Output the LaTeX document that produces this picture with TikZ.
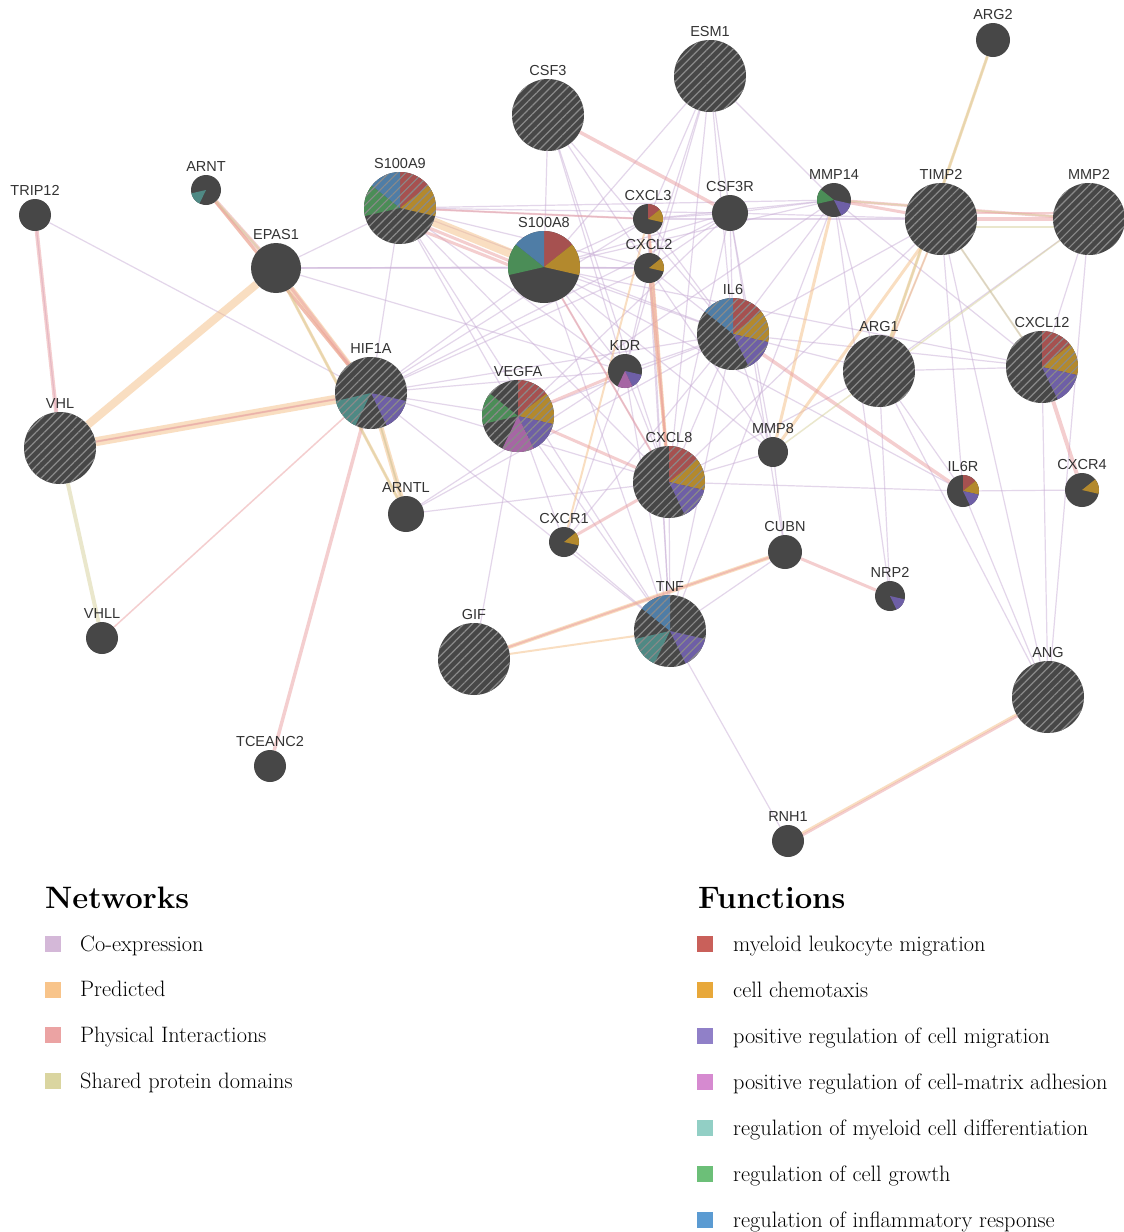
\documentclass[tikz,border=0pt]{standalone}
\usepackage{fontspec}
\newfontfamily\lbfont{Liberation Sans}
\usetikzlibrary{patterns.meta}
\pgfdeclarelayer{back}
\pgfdeclarelayer{bg}
\pgfsetlayers{back,bg,main}
\definecolor{nodegray}{HTML}{474747}
\definecolor{labelgray}{HTML}{333333}
\definecolor{hatchc}{HTML}{8A8A8A}
\definecolor{coexc}{HTML}{C9AED6}
\definecolor{predc}{HTML}{F5BE84}
\definecolor{physc}{HTML}{EA9EA0}
\definecolor{sharc}{HTML}{D6D09A}
\definecolor{lcoex}{HTML}{D4B8D8}
\definecolor{lpred}{HTML}{F8C48A}
\definecolor{lphys}{HTML}{EBA3A3}
\definecolor{lshar}{HTML}{DAD5A0}
\definecolor{fn0}{HTML}{A65150}
\definecolor{fn1}{HTML}{B3892D}
\definecolor{fn2}{HTML}{6E5FA6}
\definecolor{fn3}{HTML}{A666A4}
\definecolor{fn4}{HTML}{4F8984}
\definecolor{fn5}{HTML}{4B8D57}
\definecolor{fn6}{HTML}{4F7DA6}
\definecolor{lf0}{HTML}{C9605A}
\definecolor{lf1}{HTML}{E8A83A}
\definecolor{lf2}{HTML}{9080C8}
\definecolor{lf3}{HTML}{D68AD0}
\definecolor{lf4}{HTML}{92CFC5}
\definecolor{lf5}{HTML}{6CBF78}
\definecolor{lf6}{HTML}{5B9BD2}
\tikzset{
  gene/.style={circle, fill=nodegray, inner sep=0pt, draw=none},
  lbl/.style={font=\lbfont\fontsize{14.5}{16}\selectfont, text=labelgray, inner sep=0pt},
  coex/.style={draw=coexc, line width=1.2pt, opacity=0.5},
  pred/.style={draw=predc, line width=3pt, opacity=0.5},
  phys/.style={draw=physc, line width=3pt, opacity=0.5},
  shar/.style={draw=sharc, line width=3pt, opacity=0.5},
  legsq/.style={minimum size=16pt, inner sep=0pt, draw=none},
  legtxt/.style={anchor=base west, inner sep=0pt, font=\fontsize{22.3}{24}\selectfont, text=black},
  leghead/.style={anchor=base west, inner sep=0pt, font=\fontsize{31}{34}\selectfont\bfseries, text=black},
}
\newcommand\gene[5]{\node[gene, minimum size={2*#4 pt}, label={[lbl,label distance=3pt]above:#5}] (#1) at (#2,#3) {};}
\newcommand\pieslots[3]{\foreach \k in {#3}{%
  \pgfmathsetmacro\myS{90-\k*360/7}\pgfmathsetmacro\myE{90-(\k+1)*360/7}%
  \fill[fill=fn\k] (#1.center) -- ++(\myS:#2pt) arc[start angle=\myS,end angle=\myE,radius=#2pt] -- cycle;}}
\newcommand\hatch[2]{\fill[pattern={Lines[angle=45,distance=6pt,line width=1.2pt]}, pattern color=hatchc, fill opacity=0.5] (#1.center) circle[radius=#2pt];}
\begin{document}
\begin{tikzpicture}[x=1pt,y=-1pt]
\begin{pgfonlayer}{back}
\fill[white] (0,0) rectangle (1124,1232);
\end{pgfonlayer}
\useasboundingbox (0,0) rectangle (1124,1232);
% genes
\gene{ARG2}{993}{40}{17}{ARG2}
\gene{ESM1}{710}{76}{36}{ESM1}
\gene{CSF3}{548}{115}{36}{CSF3}
\gene{TRIP12}{35}{215}{16}{TRIP12}
\gene{ARNT}{206}{190}{15}{ARNT}
\gene{S100A9}{400}{208}{36}{S100A9}
\gene{CXCL3}{648}{219}{15}{CXCL3}
\gene{CSF3R}{730}{213}{18}{CSF3R}
\gene{MMP14}{834}{200}{17}{MMP14}
\gene{TIMP2}{941}{219}{36}{TIMP2}
\gene{MMP2}{1089}{219}{36}{MMP2}
\gene{EPAS1}{276}{268}{25}{EPAS1}
\gene{S100A8}{544}{267}{36}{S100A8}
\gene{CXCL2}{649}{268}{15}{CXCL2}
\gene{IL6}{733}{334}{36}{IL6}
\gene{HIF1A}{371}{393}{36}{HIF1A}
\gene{KDR}{625}{371}{17}{KDR}
\gene{ARG1}{879}{371}{36}{ARG1}
\gene{CXCL12}{1042}{367}{36}{CXCL12}
\gene{VEGFA}{518}{416}{36}{VEGFA}
\gene{VHL}{60}{448}{36}{VHL}
\gene{CXCL8}{669}{482}{36}{CXCL8}
\gene{MMP8}{773}{452}{15}{MMP8}
\gene{ARNTL}{406}{514}{18}{ARNTL}
\gene{IL6R}{963}{491}{16}{IL6R}
\gene{CXCR4}{1082}{490}{17}{CXCR4}
\gene{CXCR1}{564}{542}{15}{CXCR1}
\gene{CUBN}{785}{552}{17}{CUBN}
\gene{NRP2}{890}{596}{15}{NRP2}
\gene{VHLL}{102}{638}{16}{VHLL}
\gene{GIF}{474}{659}{36}{GIF}
\gene{TNF}{670}{631}{36}{TNF}
\gene{ANG}{1048}{697}{36}{ANG}
\gene{TCEANC2}{270}{766}{16}{TCEANC2}
\gene{RNH1}{788}{841}{16}{RNH1}
% pies
\pieslots{S100A9}{36}{0,1,5,6}
\pieslots{S100A8}{36}{0,1,5,6}
\pieslots{CXCL3}{15}{0,1}
\pieslots{CXCL2}{15}{1}
\pieslots{IL6}{36}{0,1,2,6}
\pieslots{HIF1A}{36}{2,4}
\pieslots{KDR}{17}{2,3}
\pieslots{VEGFA}{36}{0,1,2,3,5}
\pieslots{CXCL8}{36}{0,1,2}
\pieslots{TNF}{36}{2,4,6}
\pieslots{CXCL12}{36}{0,1,2}
\pieslots{MMP14}{17}{2,5}
\pieslots{ARNT}{15}{4}
\pieslots{IL6R}{16}{0,1,2}
\pieslots{CXCR4}{17}{1}
\pieslots{CXCR1}{15}{1}
\pieslots{NRP2}{15}{2}
% hatching (query genes)
\foreach \g in {ESM1,CSF3,S100A9,TIMP2,MMP2,IL6,HIF1A,ARG1,CXCL12,VEGFA,VHL,CXCL8,GIF,TNF,ANG}{\hatch{\g}{36}}
% edges
\begin{pgfonlayer}{bg}
\foreach \a/\b in {TRIP12/HIF1A,TRIP12/VHL,VHL/HIF1A,EPAS1/S100A9,EPAS1/S100A8,EPAS1/CXCL2,EPAS1/KDR,
  HIF1A/S100A9,HIF1A/S100A8,HIF1A/CXCL3,HIF1A/CXCL2,HIF1A/CSF3R,HIF1A/IL6,HIF1A/KDR,HIF1A/VEGFA,HIF1A/CXCL8,HIF1A/TNF,HIF1A/ARNTL,
  ARNTL/IL6,ARNTL/KDR,S100A9/CXCL3,S100A9/CXCL2,S100A9/CSF3R,S100A9/IL6,S100A9/MMP14,S100A9/CXCL8,S100A9/TNF,S100A9/KDR,S100A9/VEGFA,
  S100A8/CXCL3,S100A8/CXCL2,S100A8/CSF3R,S100A8/IL6,S100A8/CXCL8,S100A8/TNF,S100A8/MMP8,S100A8/CSF3,S100A8/MMP14,S100A8/IL6R,S100A8/KDR,
  CSF3/CXCL8,CSF3/IL6,CSF3/CXCL2,CSF3/KDR,ESM1/CXCL2,ESM1/CXCL3,ESM1/IL6,ESM1/CSF3R,ESM1/S100A8,ESM1/KDR,ESM1/CXCL8,ESM1/MMP14,
  CXCL3/CXCL2,CXCL3/IL6,CXCL3/CSF3R,CXCL3/TNF,CXCL3/MMP14,CXCL3/TIMP2,CXCL2/IL6,CXCL2/TNF,CXCL2/CSF3R,CXCL2/KDR,CXCL2/MMP8,
  CSF3R/IL6,CSF3R/CXCL8,CSF3R/MMP8,CSF3R/CUBN,CSF3R/MMP14,CSF3R/TIMP2,
  IL6/CXCL8,IL6/TNF,IL6/KDR,IL6/VEGFA,IL6/MMP14,IL6/TIMP2,IL6/CXCL12,IL6/ARG1,IL6/MMP8,IL6/CXCR1,
  KDR/CXCL8,KDR/TNF,KDR/CXCR1,VEGFA/TNF,VEGFA/GIF,VEGFA/CXCR1,VEGFA/MMP14,VEGFA/CSF3R,
  CXCL8/TNF,CXCL8/MMP8,CXCL8/IL6R,IL6R/CXCR4,TNF/CUBN,TNF/CXCR1,TNF/RNH1,TNF/MMP14,
  MMP14/ARG1,MMP14/CXCL12,TIMP2/ARG1,TIMP2/CXCL12,TIMP2/IL6R,TIMP2/CXCL8,MMP2/CXCL12,MMP2/ARG1,MMP2/ANG,
  ARG1/ANG,ARG1/IL6R,ARG1/NRP2,ARG1/CXCL8,CXCL12/ANG,CXCL12/ARG1,CXCL12/S100A8,ANG/IL6R,ANG/TIMP2,NRP2/MMP14,MMP8/CUBN,ARNTL/CXCL8}
  \draw[coex] (\a) -- (\b);
% predicted
\draw[pred,line width=8pt] (EPAS1) -- (VHL);
\draw[pred,line width=9pt] (HIF1A) -- (VHL);
\draw[pred,line width=9pt] (S100A9) -- (S100A8);
\foreach \a/\b/\w in {EPAS1/HIF1A/5,ARNT/HIF1A/3,HIF1A/ARNTL/5,EPAS1/ARNTL/3,ARG2/ARG1/3,MMP14/MMP8/3,TIMP2/MMP8/3,
  GIF/CUBN/4,GIF/TNF/2,ANG/RNH1/2.5,CXCL3/CXCL8/3,CXCL2/CXCL8/3,CXCR1/CXCL3/2,TIMP2/ARG1/2}
  \draw[pred,line width=\w pt] (\a) -- (\b);
% physical
\foreach \a/\b/\w in {TRIP12/VHL/4,ARNT/EPAS1/4,ARNT/HIF1A/3,EPAS1/HIF1A/3,VHL/HIF1A/2,HIF1A/TCEANC2/3.5,VHLL/HIF1A/1.5,
  S100A9/CXCL3/2,CSF3/CSF3R/3.5,MMP14/TIMP2/3,MMP14/MMP2/3,TIMP2/MMP2/4,IL6/IL6R/3.5,CXCL12/CXCR4/4,CXCL8/CXCR1/3,
  VEGFA/KDR/3,VEGFA/CXCL8/3,CUBN/NRP2/3,GIF/CUBN/2,CXCL3/CXCL8/2,CXCL2/CXCL8/2,S100A8/CXCL8/2}
  \draw[phys,line width=\w pt] (\a) -- (\b);
\draw[phys] ([yshift=-8pt]S100A9.center) -- ([yshift=-8pt]S100A8.center);
\draw[phys] ([yshift=-14pt]S100A9.center) -- ([yshift=-12pt]S100A8.center);
\draw[phys,line width=2.5pt] ([xshift=4pt]ANG.center) -- ([xshift=4pt]RNH1.center);
\draw[phys,line width=2pt] ([yshift=6pt]TIMP2.center) -- ([yshift=6pt]MMP2.center);
% shared domains
\foreach \a/\b/\w in {VHL/VHLL/4,ARNT/EPAS1/2,EPAS1/ARNTL/2,HIF1A/ARNTL/2,MMP2/MMP14/1.5,ARG2/ARG1/2,TIMP2/CXCL12/2,MMP2/MMP8/1.5}
  \draw[shar,line width=\w pt] (\a) -- (\b);
\draw[shar,line width=1.5pt] ([yshift=-8pt]TIMP2.center) -- ([yshift=-8pt]MMP2.center);
\end{pgfonlayer}
% legend: networks
\node[leghead] (nethead) at (45,908) {Networks};
\foreach \i/\c/\t [count=\n] in {0/lcoex/Co-expression,1/lpred/Predicted,2/lphys/Physical Interactions,3/lshar/Shared protein domains}{
  \node[legsq, fill=\c] (nsq\n) at (53,944+\i*45.7) {};
  \node[legtxt] (ntx\n) at (80,951+\i*45.7) {\t};
}
% legend: functions
\node[leghead] (fnhead) at (698,908) {Functions};
\foreach \i/\t [count=\n] in {0/myeloid leukocyte migration,1/cell chemotaxis,2/positive regulation of cell migration,3/positive regulation of cell-matrix adhesion,4/regulation of myeloid cell differentiation,5/regulation of cell growth,6/regulation of inflammatory response}{
  \node[legsq, fill=lf\i] (fsq\n) at (705,944+\i*46) {};
  \node[legtxt] (ftx\n) at (733,951+\i*46) {\t};
}
\end{tikzpicture}
\end{document}
